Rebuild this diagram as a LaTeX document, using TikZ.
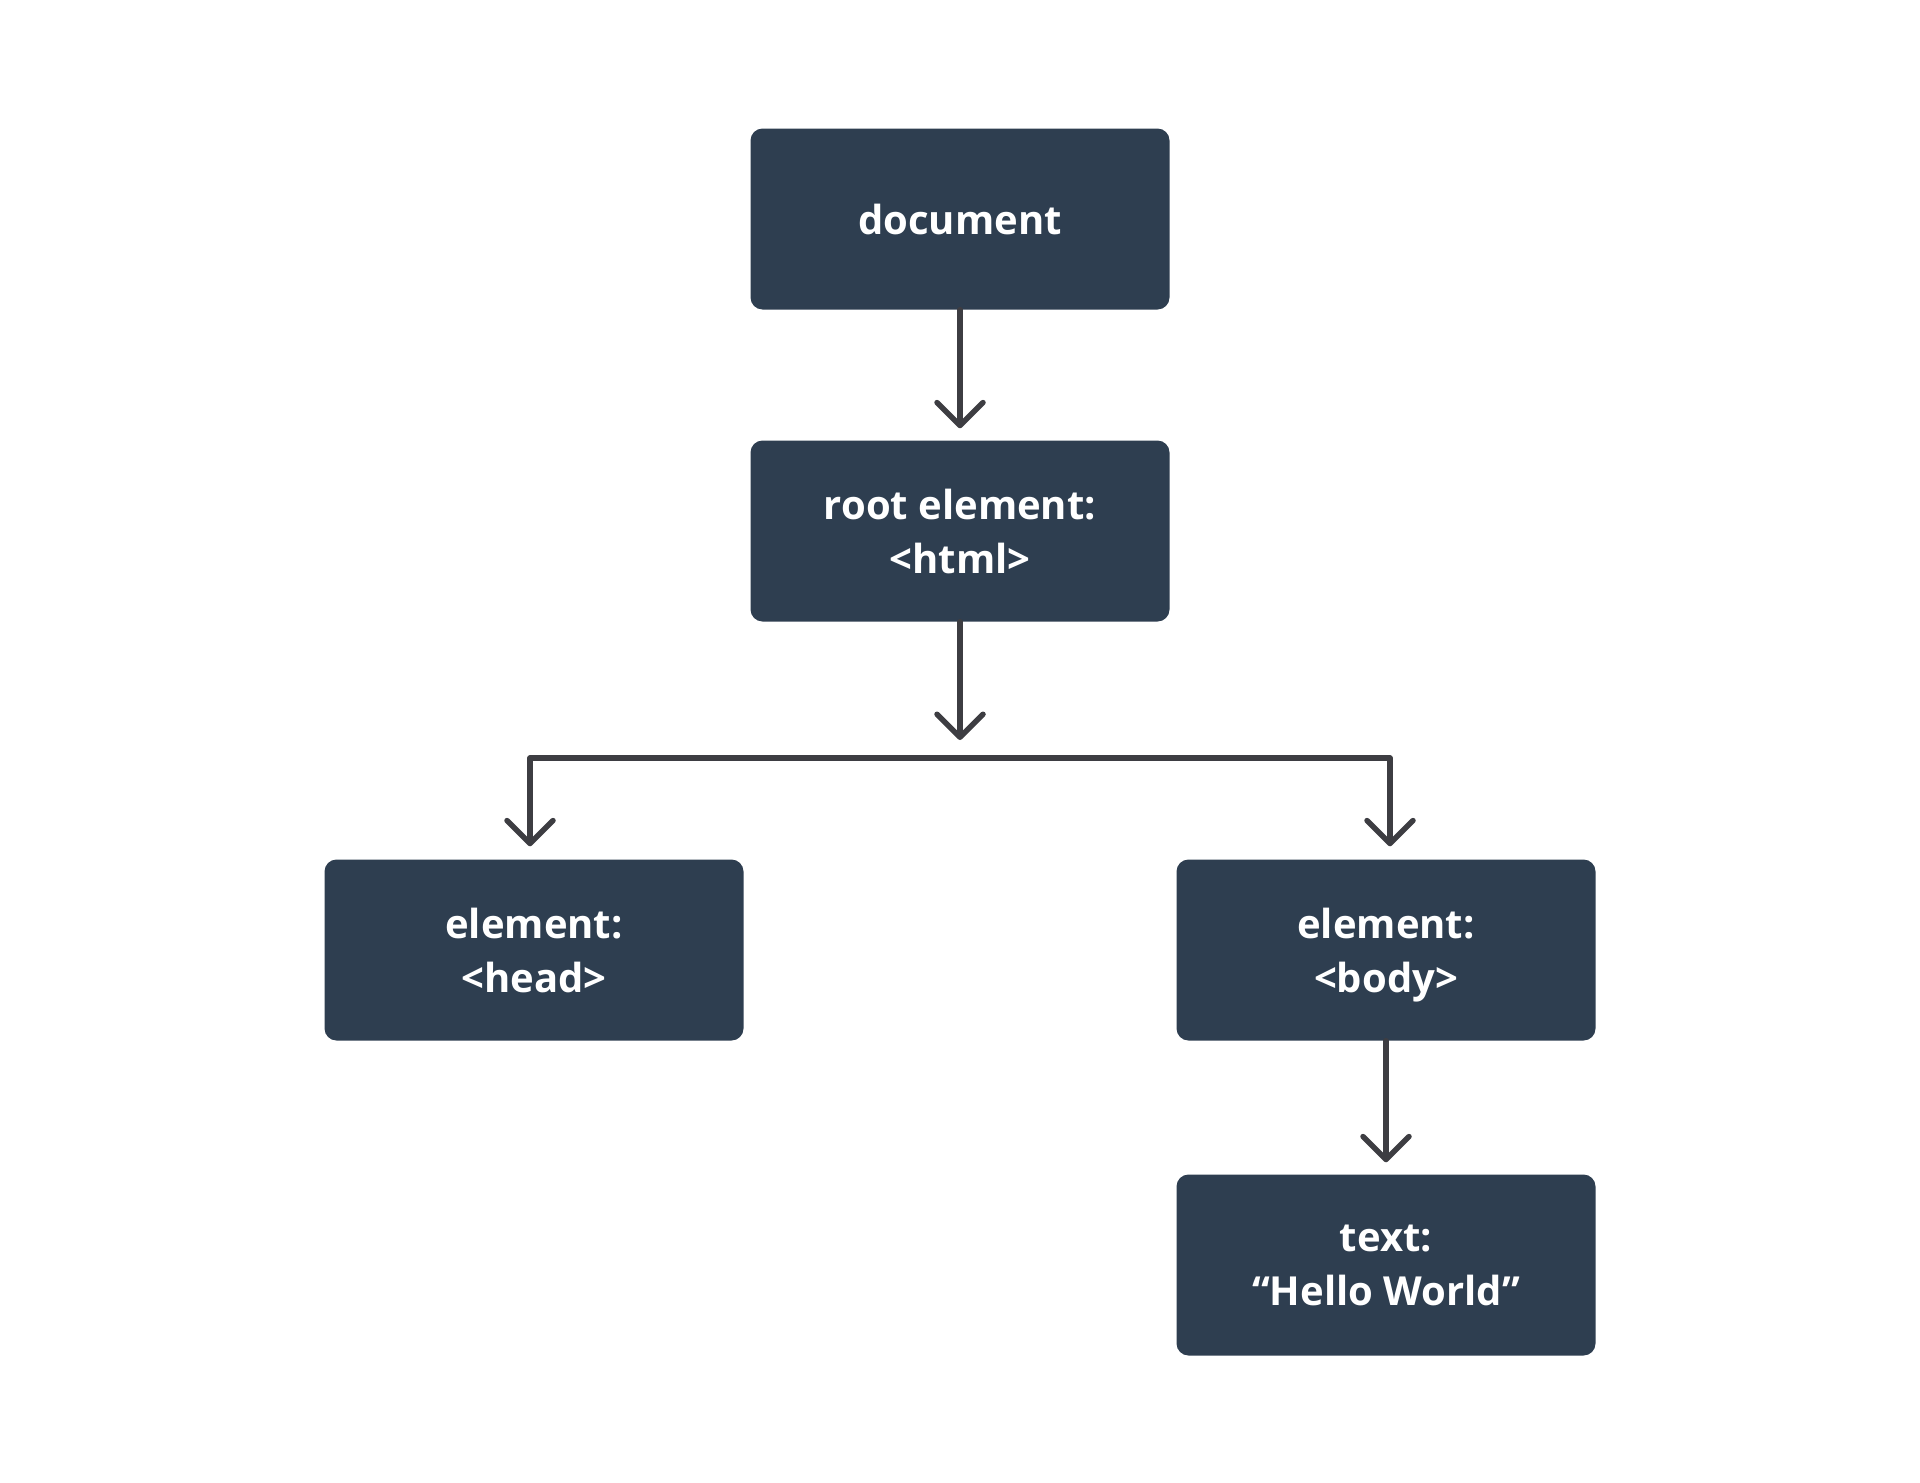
\documentclass[tikz,border=0pt]{standalone}
\usepackage{fontspec}
\setmainfont{Open Sans}
\usetikzlibrary{arrows.meta}
\definecolor{boxfill}{HTML}{2E3E50}
\definecolor{linegray}{HTML}{3D3D42}
\begin{document}
\begin{tikzpicture}[x=1pt,y=-1pt,
  box/.style={fill=boxfill,rounded corners=12pt,minimum width=419pt,minimum height=181pt,
    text=white,align=center,font=\fontsize{40}{54}\selectfont\bfseries,inner sep=0pt},
  conn/.style={draw=linegray,line width=5.5pt,line cap=round,line join=round},
  barb/.tip={Straight Barb[length=23pt,width=46pt,line width=5.5pt,line cap=round,line join=round]},
  tip/.style={-barb},
  btip/.style={barb-barb}]
\useasboundingbox (0,0) rectangle (1920,1483);
\node[box] (doc) at (960,219) {document};
\node[box] (root) at (960,531) {root element:\\\textless html\textgreater};
\node[box] (head) at (534,950) {element:\\\textless head\textgreater};
\node[box] (body) at (1386,950) {element:\\\textless bod\smash{y}\textgreater};
\node[box] (txt) at (1386,1265) {text:\\“Hello World”};
\coordinate (split) at (960,740);
\coordinate (bus) at (960,758);
\draw[conn,tip,shorten >=12pt] (doc.south) -- (root.north);
\draw[conn,tip] (root.south) -- (split);
\draw[conn,btip] ([yshift=13pt,xshift=-4pt]head.north) |- (bus) -| ([yshift=13pt,xshift=4pt]body.north);
\draw[conn,tip,shorten >=12pt] (body.south) -- (txt.north);
\end{tikzpicture}
\end{document}
